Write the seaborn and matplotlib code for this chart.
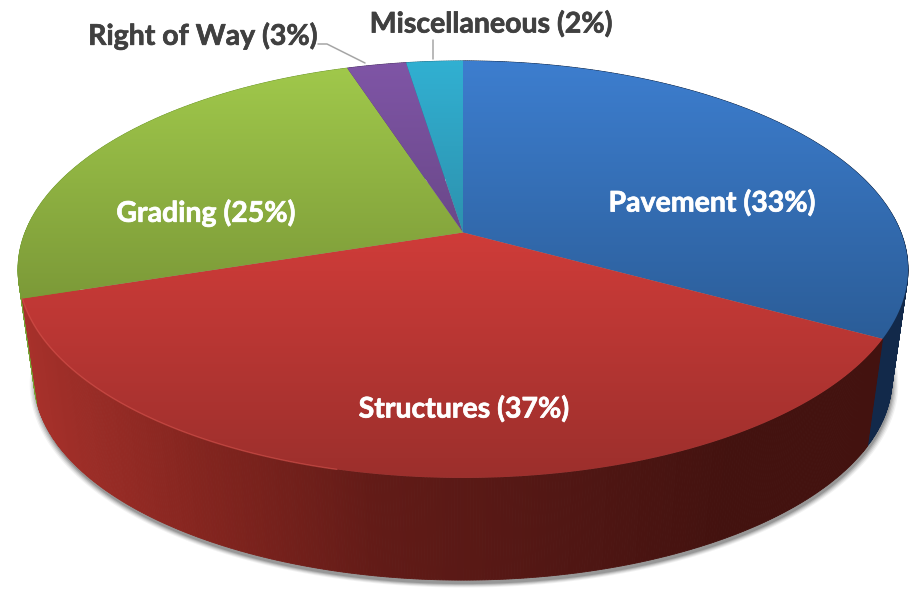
import matplotlib
matplotlib.use("Agg")
import matplotlib.pyplot as plt
import matplotlib.patheffects as pe
import numpy as np
import seaborn as sns
from matplotlib.patches import Polygon

sns.set_theme(style="white")
plt.rcParams["font.family"] = ["Lato", "DejaVu Sans"]

# ── Data ──────────────────────────────────────────────────────────────────────
categories = ["Pavement", "Structures", "Grading", "Right of Way", "Miscellaneous"]
shown_pct = [33, 37, 25, 3, 2]
# slice sizes as they measure on the picture (labels are rounded)
slice_size = [33.0, 37.0, 25.0, 2.56, 2.44]

top_colors = [("#3d7ecf", "#2b5d98"), ("#cf3c39", "#9c2f2c"), ("#a0c84b", "#7c9a38"),
              ("#7f55a6", "#6a4889"), ("#31b0d2", "#2d92ae")]
wall_colors = [("#12294a", "#12294a"), ("#a8312b", "#84251f", "#621b17", "#521714", "#43120f", "#43120f"),
               ("#76a034", "#6a9030"), ("#4d3566", "#4d3566"), ("#1f7088", "#1f7088")]

# ── Projection of the tilted disc ─────────────────────────────────────────────
CX, CY, RX, RY, K = 463, 232.5, 438, 202, 0.177
DEPTH_Y, BOTTOM_SCALE = 111, 0.964


def project(theta, r=1.0, bottom=False):
    """theta in degrees, clockwise from 12 o'clock."""
    t = np.radians(theta)
    u, v = r * np.sin(t), -r * np.cos(t)
    w = 1 / (1 - K * v)
    s = BOTTOM_SCALE if bottom else 1.0
    cy = CY + DEPTH_Y if bottom else CY
    return CX + s * RX * u * w, cy + s * RY * v * w


fig = plt.figure(figsize=(9.14, 5.89), dpi=100)
ax = fig.add_axes([0, 0, 1, 1])
ax.set_xlim(0, 914)
ax.set_ylim(589, 0)
ax.axis("off")

edges = np.concatenate([[0], np.cumsum(slice_size)]) / sum(slice_size) * 360

# soft shadow under the disc
ring = np.linspace(0, 360, 361)
for grow, alpha in zip([1.012, 1.009, 1.006, 1.003, 1.0], [0.05, 0.07, 0.09, 0.12, 0.15]):
    sx, sy = project(ring, grow, bottom=True)
    ax.fill(sx + 1, sy + 4, color="black", alpha=alpha, lw=0, zorder=1)

# ── Side wall, drawn back to front in narrow strips ───────────────────────────
strips = []
for i in range(len(slice_size)):
    steps = max(int(edges[i + 1] - edges[i]) * 3, 6)
    pal = sns.blend_palette(wall_colors[i], 256)
    ang = np.linspace(edges[i], edges[i + 1], steps + 1)
    for a0, a1 in zip(ang[:-1], ang[1:]):
        strips.append((a0, a1, pal))
strips.sort(key=lambda s: -np.cos(np.radians((s[0] + s[1]) / 2)))
for a0, a1, pal in strips:
    x0, y0 = project(a0)
    x1, y1 = project(a1)
    x2, y2 = project(a1, bottom=True)
    x3, y3 = project(a0, bottom=True)
    col = pal[int(np.clip(((x0 + x1) / 2 - 17) / 891 * 255, 0, 255))]
    ax.fill([x0, x1, x2, x3], [y0, y1, y2, y3], color=col, lw=0.6, zorder=2)

# ── Top face with vertical gradients ──────────────────────────────────────────
for i in range(len(slice_size)):
    ang = np.linspace(edges[i], edges[i + 1], 200)
    px, py = project(ang)
    px = np.concatenate([[CX], px])
    py = np.concatenate([[CY], py])
    grad = np.array(sns.blend_palette(top_colors[i], 128))[:, None, :3]
    im = ax.imshow(grad, extent=[px.min(), px.max(), py.max(), py.min()],
                   aspect="auto", interpolation="bilinear", zorder=3)
    im.set_clip_path(Polygon(np.c_[px, py], transform=ax.transData))

ax.set_xlim(0, 914)
ax.set_ylim(589, 0)

# bevel highlight on the front rim of the red slice
bx, by = project(np.linspace(edges[1] + 75, edges[2], 120))
ax.plot(bx, by, color="#dd5650", lw=1.0, alpha=0.55, zorder=4)

# ── Labels ────────────────────────────────────────────────────────────────────
labels = [f"{c} ({p}%)" for c, p in zip(categories, shown_pct)]
label_pos = [(712, 203), (464, 409), (206, 213), (203, 36), (491, 24)]
label_col = ["white", "white", "white", "#404040", "#404040"]
for txt, (lx, ly), col in zip(labels, label_pos, label_col):
    ax.text(lx, ly, txt, color=col, fontsize=20.5, fontweight="bold",
            ha="center", va="center", zorder=6,
            path_effects=[pe.withStroke(linewidth=0.5, foreground=col)])

ax.plot([318, 327, 365], [44, 44, 63], color="#a6a6a6", lw=1.1, zorder=5)
ax.plot([433, 433], [40, 59], color="#a6a6a6", lw=1.1, zorder=5)

fig.savefig("out.png", dpi=100)
plt.close(fig)
